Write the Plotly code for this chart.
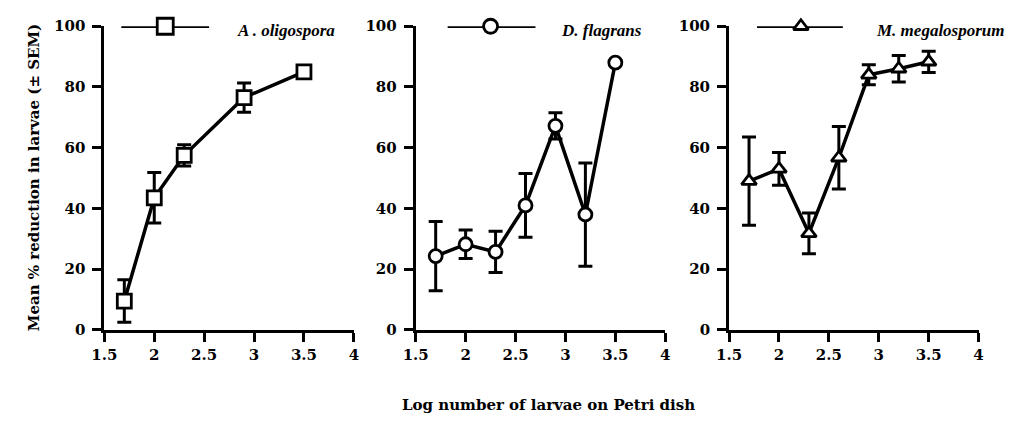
import plotly.graph_objects as go

# ---------------- data ----------------
x_oligo = [1.7, 2.0, 2.3, 2.9, 3.5]
y_oligo = [9.5, 43.5, 57.5, 76.5, 85.0]
e_oligo = [7.0, 8.3, 3.5, 4.8, None]

x_flag = [1.7, 2.0, 2.3, 2.6, 2.9, 3.2, 3.5]
y_flag = [24.3, 28.2, 25.7, 41.0, 67.2, 38.0, 88.0]
e_flag = [11.4, 4.7, 6.8, 10.5, 4.3, 17.0, None]

x_mega = [1.7, 2.0, 2.3, 2.6, 2.9, 3.2, 3.5]
y_mega = [49.0, 53.0, 31.8, 56.7, 84.0, 86.0, 88.3]
e_mega = [14.5, 5.4, 6.7, 10.3, 3.3, 4.4, 3.5]

species = ["A . oligospora", "D. flagrans", "M. megalosporum"]
symbols = ["square", "circle", "triangle-up"]

x_ticks = [1.5, 2, 2.5, 3, 3.5, 4]
y_ticks = [0, 20, 40, 60, 80, 100]
x_title = "Log number of larvae on Petri dish"
y_title = "Mean % reduction in larvae (± SEM)"

# ---------------- layout constants ----------------
W, H = 1015, 428
FONT = "DejaVu Serif"
LEG_FONT = "Liberation Serif"
panels_px = [(93, 347), (410, 664), (729, 983)]
y_top_px, y_bot_px = 18, 335
marker_sizes = [14, 13, 13]
legend_marker_sizes = [16, 14, 13]
# legend sample positions in data units: (line start, line end, marker, text start)
legend_pos = [(1.67, 2.55, 2.11, 2.81), (1.82, 2.70, 2.25, 2.94), (1.78, 2.64, 2.22, 2.95)]

series = [(x_oligo, y_oligo, e_oligo), (x_flag, y_flag, e_flag), (x_mega, y_mega, e_mega)]

fig = go.Figure()
annotations = []

for i, ((xs, ys, es), name, sym) in enumerate(zip(series, species, symbols)):
    xa = "x" if i == 0 else f"x{i+1}"
    ya = "y" if i == 0 else f"y{i+1}"
    fig.add_trace(go.Scatter(
        x=xs, y=ys, xaxis=xa, yaxis=ya, mode="lines+markers",
        line=dict(color="black", width=3.5),
        marker=dict(symbol=sym, size=marker_sizes[i], color="white",
                    line=dict(color="black", width=2.8)),
        error_y=dict(type="data", array=es, visible=True, color="black",
                     thickness=3, width=7),
        cliponaxis=False, showlegend=False, name=name))
    # legend sample
    l0, l1, lm, lt = legend_pos[i]
    fig.add_trace(go.Scatter(
        x=[l0, lm, l1], y=[100, 100, 100], xaxis=xa, yaxis=ya,
        mode="lines", line=dict(color="black", width=3.5),
        cliponaxis=False, showlegend=False, hoverinfo="skip"))
    fig.add_trace(go.Scatter(
        x=[lm], y=[100], xaxis=xa, yaxis=ya, mode="markers",
        marker=dict(symbol=sym, size=legend_marker_sizes[i], color="white",
                    line=dict(color="black", width=2.8)),
        cliponaxis=False, showlegend=False, hoverinfo="skip"))
    annotations.append(dict(
        x=lt, y=98.6, xref=xa, yref=ya, xanchor="left", yanchor="middle",
        text=f"<b><i>{name}</i></b>", showarrow=False,
        font=dict(family=LEG_FONT, size=17, color="black")))

ydom = [(H - y_bot_px) / H, (H - y_top_px) / H]
axis_common = dict(showline=True, linecolor="black", linewidth=3, ticks="outside",
                   ticklen=9, tickwidth=3, tickcolor="black", showgrid=False,
                   zeroline=False,
                   tickfont=dict(family=FONT, size=15, color="black", weight="bold"))
layout_axes = {}
for i, (p0, p1) in enumerate(panels_px):
    sfx = "" if i == 0 else str(i + 1)
    layout_axes[f"xaxis{sfx}"] = dict(
        domain=[p0 / W, p1 / W], range=[1.5, 4], tickvals=x_ticks,
        ticktext=[str(v) for v in x_ticks], anchor=f"y{sfx}", **axis_common)
    layout_axes[f"yaxis{sfx}"] = dict(
        domain=ydom, range=[0, 100], tickvals=y_ticks, anchor=f"x{sfx}",
        ticklabelstandoff=4, **axis_common)

annotations.append(dict(x=545 / W, y=(H - 413) / H, xref="paper", yref="paper",
                        text=x_title, showarrow=False, xanchor="center", yanchor="middle",
                        font=dict(family=FONT, size=15, color="black", weight="bold")))
annotations.append(dict(x=21 / W, y=(H - 176) / H, xref="paper", yref="paper",
                        text=y_title, showarrow=False, textangle=-90,
                        xanchor="center", yanchor="middle",
                        font=dict(family=FONT, size=15, color="black", weight="bold")))

fig.update_layout(width=W, height=H, margin=dict(l=0, r=0, t=0, b=0),
                  paper_bgcolor="white", plot_bgcolor="white", hovermode=False,
                  annotations=annotations, **layout_axes)

fig.write_html("out.html", config={"displayModeBar": False, "staticPlot": True},
               post_script="document.body.style.margin='0';document.body.style.overflow='hidden';")
